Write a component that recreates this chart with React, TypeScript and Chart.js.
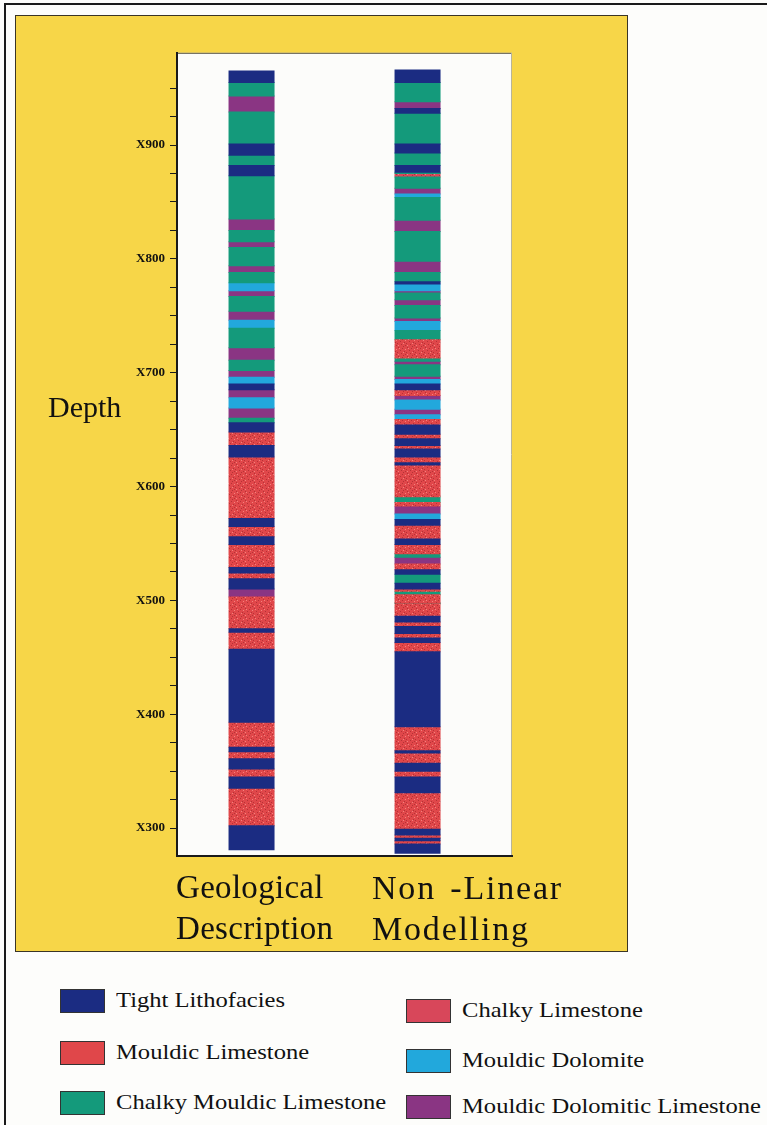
import React, { useEffect, useRef } from "react";
import { Chart, registerables } from "chart.js";
Chart.register(...registerables);

// Columns (index positions on the x scale)
const columnTitles = ["Geological Description", "Non -Linear Modelling"];

// Lithofacies legend
const faciesCodes = ["T", "ML", "CML", "CL", "MD", "MDL"];
const faciesNames = [
  "Tight Lithofacies",
  "Mouldic Limestone",
  "Chalky Mouldic Limestone",
  "Chalky Limestone",
  "Mouldic Dolomite",
  "Mouldic Dolomitic Limestone",
];
const faciesColors = ["#1b2c82", "#e0474a", "#149a7b", "#d8475a", "#22a8dc", "#8a3583"];

// Depth tick marks (labels every 100)
const depthTicks = [300, 325, 350, 375, 400, 425, 450, 475, 500, 525, 550, 575, 600, 625, 650, 675, 700, 725, 750, 775, 800, 825, 850, 875, 900, 925, 950];

// Geological Description: band boundaries (top -> bottom) and facies of each band
const geoDepths = [965, 955, 943, 929, 901, 891, 882, 873, 835, 825, 815, 810, 794, 788, 779, 772, 767, 754, 746, 739, 722, 711, 702, 696, 690, 685, 678, 669, 660, 656, 648, 636, 626, 572, 565, 556, 549, 529, 524, 519, 510, 503, 475, 472, 457, 393, 371, 367, 361, 352, 345, 335, 302, 281];
const geoFacies = ["T", "CML", "MDL", "CML", "T", "CML", "T", "CML", "MDL", "CML", "MDL", "CML", "MDL", "CML", "MD", "MDL", "CML", "MDL", "MD", "CML", "MDL", "CML", "MDL", "MD", "T", "MDL", "MD", "MDL", "CML", "T", "ML", "T", "ML", "T", "ML", "T", "ML", "T", "ML", "T", "MDL", "ML", "T", "ML", "T", "ML", "T", "ML", "T", "ML", "T", "ML", "T"];

// Non-Linear Modelling: band boundaries (top -> bottom) and facies of each band
const nlmDepths = [966, 955, 938, 932, 928, 901, 893, 882, 876, 875, 872, 862, 857, 854, 834, 824, 798, 788, 780, 778, 772, 770, 764, 759, 748, 745, 737, 729, 713, 710, 707, 697, 694, 690, 685, 680, 676, 668, 663, 659, 654, 646, 642, 636, 633, 626, 621, 619, 591, 586, 583, 576, 571, 566, 554, 549, 541, 538, 532, 527, 523, 515, 510, 508, 505, 498, 497, 486, 481, 477, 471, 467, 463, 455, 389, 368, 366, 357, 350, 345, 331, 299, 294, 291, 289, 286, 278];
const nlmFacies = ["T", "CML", "MDL", "T", "CML", "T", "CML", "T", "CML", "CL", "CML", "MDL", "MD", "CML", "MDL", "CML", "MDL", "CML", "T", "MD", "MDL", "CML", "MDL", "CML", "MDL", "MD", "CML", "ML", "CML", "MDL", "CML", "MDL", "MD", "T", "ML", "MDL", "MD", "MDL", "MD", "ML", "T", "ML", "T", "ML", "T", "ML", "T", "ML", "CML", "ML", "MDL", "MD", "T", "ML", "T", "ML", "CML", "MDL", "ML", "T", "CML", "T", "ML", "CML", "ML", "CML", "ML", "T", "ML", "T", "ML", "T", "ML", "T", "ML", "T", "ML", "T", "ML", "T", "ML", "T", "ML", "T", "ML", "T"];

const serif = "'Liberation Serif', 'Times New Roman', serif";

function makeSpeckle(base: string, dark: string) {
  const c = document.createElement("canvas");
  c.width = 9;
  c.height = 9;
  const g = c.getContext("2d")!;
  g.fillStyle = base;
  g.fillRect(0, 0, 9, 9);
  g.fillStyle = dark;
  const pts = [[1, 1], [5, 2], [3, 4], [7, 5], [0, 6], [4, 7], [8, 8], [6, 0]];
  pts.forEach(([x, y]) => g.fillRect(x, y, 1, 1));
  g.fillStyle = "rgba(255,170,160,0.6)";
  [[2, 2], [6, 6], [8, 3], [1, 8]].forEach(([x, y]) => g.fillRect(x, y, 1, 1));
  return g.createPattern(c, "repeat");
}

export default function App() {
  const ref = useRef<HTMLCanvasElement | null>(null);

  useEffect(() => {
    if (!ref.current) return;
    const fills: any[] = faciesColors.map((c, i) =>
      faciesCodes[i] === "ML" ? makeSpeckle(c, "#b53236") : faciesCodes[i] === "CL" ? makeSpeckle(c, "#a8323f") : c
    );
    const cols = [
      { depths: geoDepths, facies: geoFacies },
      { depths: nlmDepths, facies: nlmFacies },
    ];
    const datasets = faciesCodes.map((code, fi) => {
      const data: any[] = [];
      cols.forEach((col, ci) => {
        col.facies.forEach((f, bi) => {
          if (f === code) data.push({ x: ci, y: [col.depths[bi + 1], col.depths[bi]] });
        });
      });
      return {
        label: faciesNames[fi],
        data,
        backgroundColor: fills[fi],
        borderWidth: 0,
        barThickness: 45,
        grouped: false,
        inflateAmount: 0.5,
      };
    });

    const plotBg = {
      id: "plotBg",
      beforeDraw(chart: any) {
        const { ctx, chartArea: a } = chart;
        ctx.save();
        ctx.fillStyle = "#fcfcfa";
        ctx.fillRect(a.left, a.top, a.right - a.left, a.bottom - a.top);
        ctx.strokeStyle = "#55523f";
        ctx.lineWidth = 1;
        ctx.beginPath();
        ctx.moveTo(a.left, a.top + 0.5);
        ctx.lineTo(a.right - 0.5, a.top + 0.5);
        ctx.stroke();
        ctx.strokeStyle = "#b8b49a";
        ctx.beginPath();
        ctx.moveTo(a.right - 0.5, a.top);
        ctx.lineTo(a.right - 0.5, a.bottom);
        ctx.stroke();
        ctx.restore();
      },
    };

    const chart = new Chart(ref.current, {
      type: "bar",
      data: { datasets: datasets as any },
      options: {
        animation: false,
        responsive: false,
        devicePixelRatio: 1,
        layout: { padding: { top: 8, bottom: 14, right: 8, left: 0 } },
        plugins: { legend: { display: false }, tooltip: { enabled: false } },
        scales: {
          x: {
            type: "linear",
            offset: false,
            min: -0.449,
            max: 1.569,
            ticks: { display: false },
            grid: { display: false, offset: false },
            border: { display: true, color: "#1a1a1a", width: 2 },
            afterFit: (s: any) => {
              s.height = 0;
            },
          },
          y: {
            type: "linear",
            min: 275.5,
            max: 981,
            afterBuildTicks: (s: any) => {
              s.ticks = depthTicks.map((v) => ({ value: v }));
            },
            afterFit: (s: any) => {
              s.width = 77;
            },
            ticks: {
              autoSkip: false,
              padding: 5,
              color: "#111",
              font: { family: serif, size: 13, weight: "bold" },
              callback: (v: any) => (Number(v) % 100 === 0 ? "X" + v : ""),
            },
            grid: { drawOnChartArea: false, drawTicks: true, tickLength: 7, color: "#1a1a1a", lineWidth: 1 },
            border: { display: true, color: "#1a1a1a", width: 2 },
          },
        },
      },
      plugins: [plotBg],
    });
    return () => chart.destroy();
  }, []);

  const legendItems = [
    { i: 0, left: 60, top: 988 },
    { i: 1, left: 60, top: 1040 },
    { i: 2, left: 60, top: 1090 },
    { i: 3, left: 406, top: 998 },
    { i: 4, left: 406, top: 1048 },
    { i: 5, left: 406, top: 1094 },
  ];

  const stretch = { transform: "scaleX(1.17)", transformOrigin: "left center" } as const;

  return (
    <div style={{ position: "absolute", left: 0, top: 0, width: 767, height: 1125, background: "#fdfdfb", overflow: "hidden", fontFamily: serif }}>
      <div style={{ position: "absolute", left: 4, top: 3, width: 800, height: 1200, borderLeft: "2px solid #1a1a1a", borderTop: "2px solid #1a1a1a" }} />
      <div style={{ position: "absolute", left: 15, top: 15, width: 613, height: 937, boxSizing: "border-box", background: "#f7d648", border: "1.5px solid #3a3526" }} />
      <canvas ref={ref} width={420} height={830} style={{ position: "absolute", left: 100, top: 40, width: 420, height: 830 }} />
      <div style={{ position: "absolute", left: 48, top: 390, fontSize: 30, color: "#111", whiteSpace: "nowrap" }}>Depth</div>
      <div style={{ position: "absolute", left: 176, top: 867, fontSize: 33, lineHeight: "41px", color: "#111", whiteSpace: "nowrap", letterSpacing: 0.3 }}>
        {columnTitles[0].split(" ").map((w, k) => (
          <div key={k}>{w}</div>
        ))}
      </div>
      <div style={{ position: "absolute", left: 372, top: 867, fontSize: 34, lineHeight: "41px", color: "#111", whiteSpace: "nowrap", letterSpacing: 1.8, wordSpacing: 4 }}>
        <div>Non -Linear</div>
        <div>Modelling</div>
      </div>
      {legendItems.map((it) => (
        <div key={it.i} style={{ position: "absolute", left: it.left, top: it.top, height: 25, display: "flex", alignItems: "center", whiteSpace: "nowrap" }}>
          <div style={{ width: 45, height: 24, boxSizing: "border-box", background: faciesColors[it.i], border: "1px solid #333" }} />
          <div style={{ marginLeft: 11, fontSize: 21, color: "#111", ...stretch }}>{faciesNames[it.i]}</div>
        </div>
      ))}
    </div>
  );
}
